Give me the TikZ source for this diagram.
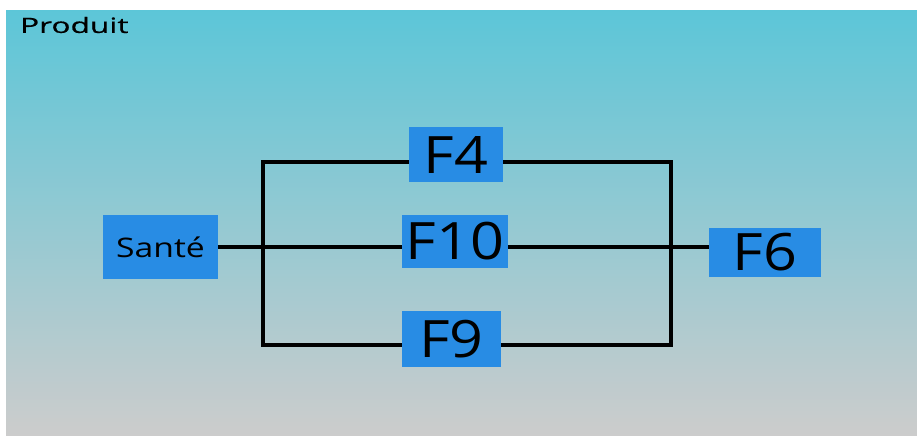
\documentclass[tikz,border=0pt]{standalone}
\usepackage{fontspec}
\setmainfont{Open Sans}
\newfontfamily\bigboxfont[FakeStretch=1.15]{Open Sans}
\newfontfamily\smallboxfont[FakeStretch=1.25]{Open Sans}
\newfontfamily\titlefont[FakeStretch=1.5, FakeBold=0.6]{Open Sans}
\usetikzlibrary{backgrounds}

\definecolor{boxblue}{RGB}{40,140,228}
\definecolor{skytop}{RGB}{92,198,216}
\definecolor{greybottom}{RGB}{204,204,204}

\tikzset{
  block/.style={fill=boxblue, inner sep=0pt, text=black},
  bigtext/.style={font=\bigboxfont\fontsize{44}{44}\selectfont},
  wire/.style={line width=3.4pt, black},
}

\begin{document}
\begin{tikzpicture}[x=0.03cm, y=-0.03cm]

	\useasboundingbox (0,0) rectangle (917,435);

	\node[anchor=west, font=\titlefont\fontsize{18}{18}\selectfont] (title) at (16,25) {Produit};

	\node[block, minimum width=115*0.03cm, minimum height=64*0.03cm,
		font=\smallboxfont\fontsize{23}{23}\selectfont] (sante) at (160.5,247) {Santé};
	\node[block, bigtext, minimum width=94*0.03cm, minimum height=55*0.03cm] (f4) at (456,154.5) {F4};
	\node[block, bigtext, minimum width=106*0.03cm, minimum height=53*0.03cm] (f10) at (455,241.5) {F10};
	\node[block, bigtext, minimum width=99*0.03cm, minimum height=56*0.03cm] (f9) at (451.5,339) {F9};
	\node[block, bigtext, minimum width=112*0.03cm, minimum height=49*0.03cm] (f6) at (765,252.5) {F6};

	\coordinate (tl) at (263,162);
	\coordinate (bl) at (263,345);
	\coordinate (tr) at (671,162);
	\coordinate (br) at (671,345);
	\coordinate (mid) at (0,247);

	\begin{scope}[on background layer]
		\fill[white] (0,0) rectangle (917,435);
		\shade[top color=skytop, bottom color=greybottom] (6,10) rectangle (917,435);
		\draw[wire] (sante.east |- mid) -- (f10.west |- mid) ; %
		\draw[wire] (f10.east |- mid) -- (f6.west |- mid) ; %
		\draw[wire] (f4.west |- tl) -- (tl) -- (bl) -- (f9.west |- bl) ; %
		\draw[wire] (f4.east |- tr) -- (tr) -- (br) -- (f9.east |- br) ; %
	\end{scope}

\end{tikzpicture}
\end{document}
